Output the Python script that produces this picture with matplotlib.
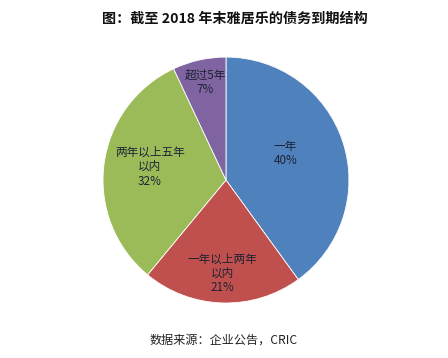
import matplotlib.pyplot as plt
import numpy as np

plt.rcParams['font.family'] = ['Noto Sans CJK SC', 'DejaVu Sans']

labels = ['一年', '一年以上两年\n以内', '两年以上五年\n以内', '超过5年']
values = [40, 21, 32, 7]
colors = ['#4F81BD', '#C0504D', '#9BBB59', '#8064A2']
# label placement (distance from centre in radii, angle in degrees)
lab_dist = [0.53, 0.76, 0.63, 0.81]
lab_ang = [24, -92, 170, 102]

fig = plt.figure(figsize=(4.48, 3.58), dpi=100)
fig.patch.set_facecolor('white')

ax = fig.add_axes([0.2299, 0.1536, 0.549, 0.687])
wedges, _ = ax.pie(values, colors=colors, startangle=90, counterclock=False,
                   radius=1, wedgeprops=dict(edgecolor='white', linewidth=0.6))
ax.set_xlim(-1, 1)
ax.set_ylim(-1, 1)
ax.set_aspect('equal')
ax.axis('off')

for lab, v, d, a in zip(labels, values, lab_dist, lab_ang):
    x = d * np.cos(np.radians(a))
    y = d * np.sin(np.radians(a))
    ax.text(x, y, f"{lab}\n{v}%", ha='center', va='center', fontsize=8.4,
            color='#1e2233', linespacing=1.15)

fig.text(0.524, 0.948, '图：截至 2018 年末雅居乐的债务到期结构', ha='center', va='center',
         fontsize=10.2, fontweight='bold', color='#111111')
fig.text(0.498, 0.05, '数据来源：企业公告，CRIC', ha='center', va='center',
         fontsize=8.7, color='#222222')

fig.savefig('out.png', dpi=100)
